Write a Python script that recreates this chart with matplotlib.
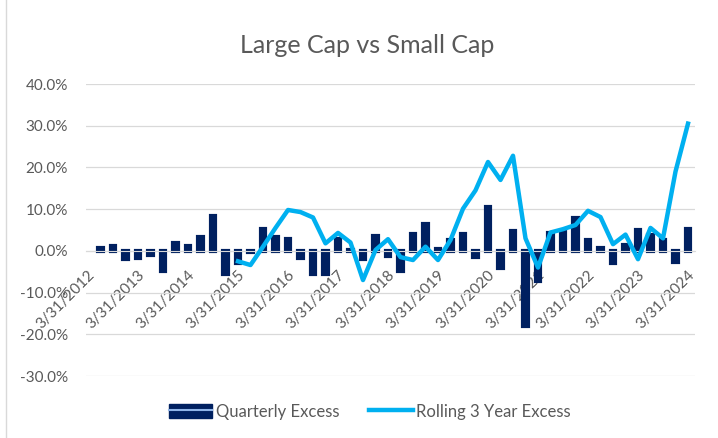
import matplotlib.pyplot as plt
import numpy as np
from matplotlib.patches import Patch
from matplotlib.lines import Line2D
from matplotlib.legend_handler import HandlerTuple

plt.rcParams['font.family'] = ['Lato', 'DejaVu Sans']

# quarter-end dates on the axis, 3/31/2012 .. 3/31/2024
quarters = [f'{md}/{yr}' for yr in range(2012, 2025)
            for md in ('3/31', '6/30', '9/30', '12/31')][:49]
tick_labels = quarters[::4]

# quarterly excess return (%), 6/30/2012 .. 3/31/2024
quarterly_excess = [
    0.7, 1.1, -2.0, -1.8, -1.1, -4.9, 1.8, 1.2, 3.3, 8.3, -5.5, -2.9,
    -0.3, 5.3, 3.3, 2.9, -1.8, -5.5, -5.5, 2.9, 0.3, -1.9, 3.6, -1.3,
    -4.8, 4.0, 6.5, 0.4, 2.5, 4.0, -1.5, 10.4, -4.0, 4.7, -18.1, -7.3,
    4.2, 4.6, 7.9, 2.5, 0.7, -2.9, 1.4, 5.1, 3.8, 2.6, -2.6, 5.3,
]

# rolling 3 year excess (%), 3/31/2015 .. 3/31/2024
rolling_3yr = [
    -2.5, -3.4, 1.0, 5.5, 9.8, 9.3, 8.0, 1.8, 4.3, 2.0, -7.0, 0.2,
    2.8, -1.5, -2.2, 1.0, -2.2, 2.6, 10.1, 14.5, 21.3, 17.0, 22.8, 3.0,
    -4.0, 4.4, 5.2, 6.2, 9.6, 8.1, 1.6, 3.9, -2.0, 5.5, 3.0, 19.0, 30.5,
]

navy = '#002060'
sky = '#00B0F0'
grey_text = '#595959'
grid_col = '#d9d9d9'

n = len(quarters)
bar_x = np.arange(n - len(quarterly_excess), n)
line_x = np.arange(n - len(rolling_3yr), n)

fig = plt.figure(figsize=(7.18, 4.38), dpi=100)
ax = fig.add_axes([86 / 718, 1 - 376 / 438, (695 - 86) / 718, (376 - 84) / 438])

ax.bar(bar_x, quarterly_excess, width=0.35, color=navy, edgecolor=navy,
       linewidth=3, zorder=2)
ax.plot(line_x, rolling_3yr, color=sky, lw=3.2, zorder=4)

ax.set_xlim(-0.16, 48.56)
ax.set_ylim(-30, 40)
yticks = np.arange(-30, 41, 10)
ax.set_yticks(yticks)
ax.set_yticklabels([f'{v:.1f}%' for v in yticks])
ax.yaxis.grid(True, color=grid_col, lw=0.9)
ax.set_axisbelow(True)

for side in ('top', 'right', 'left'):
    ax.spines[side].set_visible(False)
ax.spines['bottom'].set_position(('data', 0))
ax.spines['bottom'].set_color(grid_col)
ax.spines['bottom'].set_zorder(3)

ax.set_xticks(np.arange(0, n, 4))
ax.set_xticklabels(tick_labels, rotation=45, ha='right', va='top',
                   rotation_mode='anchor')
ax.tick_params(axis='x', length=0, pad=12, labelsize=11, labelcolor=grey_text)
ax.tick_params(axis='y', length=0, pad=13, labelsize=11, labelcolor=grey_text)

fig.text(0.511, 0.897, 'Large Cap vs Small Cap', ha='center', va='center',
         fontsize=18, color=grey_text)

handles = [(Patch(facecolor=navy, edgecolor=navy),
            Line2D([], [], color='#8fb4e8', lw=1.5)),
           Line2D([], [], color=sky, lw=3.2)]
fig.legend(handles, ['Quarterly Excess', 'Rolling 3 Year Excess'],
           handler_map={tuple: HandlerTuple(ndivide=1, pad=0)},
           loc='center', bbox_to_anchor=(0.515, 0.06), ncol=2, frameon=False,
           fontsize=12, handlelength=2.6, handleheight=0.9, columnspacing=1.8,
           handletextpad=0.2, labelcolor=grey_text)

fig.add_artist(Line2D([6 / 718, 6 / 718], [0, 1], color=grid_col, lw=1,
                      transform=fig.transFigure))

fig.savefig('out.png', dpi=100)
